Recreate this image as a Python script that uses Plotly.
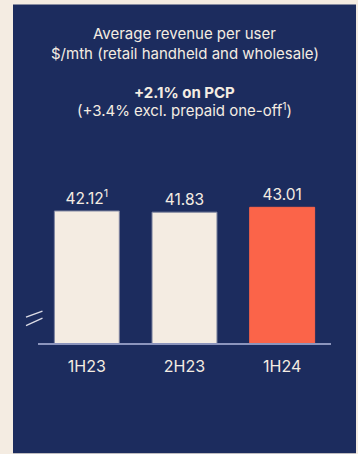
import plotly.graph_objects as go

categories = ["1H23", "2H23", "1H24"]
values = [42.12, 41.83, 43.01]
value_labels = ["42.12<sup>1</sup>", "41.83", "43.01"]
bar_colors = ["#f4ece2", "#f4ece2", "#fb6449"]
line_colors = ["#7d849f", "#7d849f", "#fb6449"]

title_lines = ["Average revenue per user", "$/mth (retail handheld and wholesale)"]
headline = "+2.1% on PCP"
subline = "(+3.4% excl. prepaid one-off<sup>1</sup>)"

W, H = 358, 454
L, R = 38, 331
T, B = 179, 343.5
NAVY = "#1c2c5e"
BEIGE = "#f4ece2"
FONT = "Inter, Roboto, sans-serif"


def px_x(px):
    return (px - L) / (R - L)


def px_y(py):
    return (B - py) / (B - T)


fig = go.Figure()
fig.add_trace(go.Bar(
    x=categories, y=values,
    marker=dict(color=bar_colors, line=dict(color=line_colors, width=1)),
    text=value_labels, textposition="outside", cliponaxis=False,
    outsidetextfont=dict(color=BEIGE, size=15.5, family=FONT),
    hoverinfo="skip",
))

shapes = [
    dict(type="rect", xref="paper", yref="paper", layer="below",
         x0=px_x(13), x1=px_x(356), y0=px_y(454), y1=px_y(4),
         fillcolor=NAVY, line=dict(width=0)),
    dict(type="line", xref="paper", yref="paper",
         x0=px_x(26), y0=px_y(317.5), x1=px_x(42.5), y1=px_y(311.5),
         line=dict(color="#dcdce6", width=1.3)),
    dict(type="line", xref="paper", yref="paper",
         x0=px_x(26), y0=px_y(326), x1=px_x(42.5), y1=px_y(318.5),
         line=dict(color="#dcdce6", width=1.3)),
]

annotations = [
    dict(text=title_lines[0], x=0.5, y=px_y(33), xref="paper", yref="paper",
         showarrow=False, font=dict(color=BEIGE, size=15, family=FONT), yanchor="middle"),
    dict(text=title_lines[1], x=0.5, y=px_y(53), xref="paper", yref="paper",
         showarrow=False, font=dict(color=BEIGE, size=15, family=FONT), yanchor="middle"),
    dict(text="<b>" + headline + "</b>", x=0.5, y=px_y(92), xref="paper", yref="paper",
         showarrow=False, font=dict(color=BEIGE, size=15, family=FONT), yanchor="middle"),
    dict(text=subline, x=0.5, y=px_y(110), xref="paper", yref="paper",
         showarrow=False, font=dict(color=BEIGE, size=15, family=FONT), yanchor="middle"),
]

fig.update_layout(
    width=W, height=H,
    margin=dict(l=L, r=W - R, t=T, b=H - B, pad=0),
    paper_bgcolor=BEIGE, plot_bgcolor=NAVY,
    showlegend=False, bargap=0.335,
    shapes=shapes, annotations=annotations,
    xaxis=dict(showline=True, linecolor="#8c95bd", linewidth=1.5, showgrid=False,
               ticks="", ticklabelstandoff=8, range=[-0.5, 2.5],
               tickfont=dict(color=BEIGE, size=16, family=FONT)),
    yaxis=dict(visible=False, range=[10, 49.9], showgrid=False, zeroline=False),
)

fig.write_html("out.html")
